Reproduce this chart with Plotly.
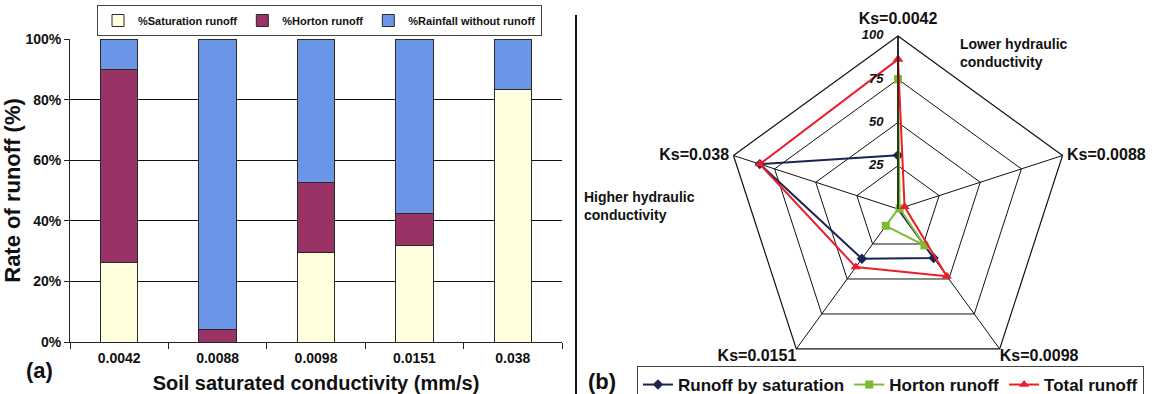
import plotly.graph_objects as go

# ---------------- data ----------------
categories = ["0.0042", "0.0088", "0.0098", "0.0151", "0.038"]
sat_runoff = [26.3, 0.0, 29.7, 31.8, 83.3]
horton_runoff = [63.7, 4.1, 22.9, 10.7, 0.0]
rain_no_runoff = [10.0, 95.9, 47.4, 57.5, 16.7]

radar_axes = ["Ks=0.0042", "Ks=0.0088", "Ks=0.0098", "Ks=0.0151", "Ks=0.038"]
radar_sat = [31, 0, 35, 35.5, 84]
radar_horton = [75, 1, 26, 12, 0]
radar_total = [86.5, 4, 48, 41.5, 84]

y_ticks = [0, 20, 40, 60, 80, 100]
y_tick_labels = ["0%", "20%", "40%", "60%", "80%", "100%"]
r_ticks = [0, 25, 50, 75, 100]
r_tick_labels = ["0", "25", "50", "75", "100"]
r_max = 100

FONT = "Liberation Sans, Arial, sans-serif"
W, H = 1162, 394

def px_x(x):
    return x / W

def px_y(y):
    return 1 - y / H

fig = go.Figure()

bar_line = dict(color="#2a2a2a", width=1)
fig.add_trace(go.Bar(x=categories, y=sat_runoff, name="%Saturation runoff",
                     marker=dict(color="#FFFFDE", line=bar_line), legend="legend"))
fig.add_trace(go.Bar(x=categories, y=horton_runoff, name="%Horton runoff",
                     marker=dict(color="#993366", line=bar_line), legend="legend"))
fig.add_trace(go.Bar(x=categories, y=rain_no_runoff, name="%Rainfall without runoff",
                     marker=dict(color="#6B95E6", line=bar_line), legend="legend"))

def closed(v):
    return list(v) + [v[0]]

fig.add_trace(go.Scatterpolar(r=closed(radar_sat), theta=closed(radar_axes),
                              name="Runoff by saturation", mode="lines+markers",
                              line=dict(color="#1B2452", width=2),
                              marker=dict(symbol="diamond", size=8, color="#1B2452"),
                              legend="legend2"))
fig.add_trace(go.Scatterpolar(r=closed(radar_horton), theta=closed(radar_axes),
                              name="Horton runoff", mode="lines+markers",
                              line=dict(color="#7DBB35", width=2),
                              marker=dict(symbol="square", size=8, color="#7DBB35"),
                              legend="legend2"))
fig.add_trace(go.Scatterpolar(r=closed(radar_total), theta=closed(radar_axes),
                              name="Total runoff", mode="lines+markers",
                              line=dict(color="#E8202A", width=2),
                              marker=dict(symbol="triangle-up", size=9, color="#E8202A"),
                              legend="legend2"))
# radial tick labels (horizontal, left of the vertical axis)
pad = "\u00a0\u00a0\u00a0\u00a0"
fig.add_trace(go.Scatterpolar(r=r_ticks, theta=[radar_axes[0]] * len(r_ticks),
                              mode="text", text=[t + pad for t in r_tick_labels],
                              textposition="middle left",
                              textfont=dict(size=13, weight="bold", style="italic",
                                            color="#111"),
                              showlegend=False, hoverinfo="skip"))
# category labels at the four lower / side vertices (top one is the angular tick label)
side_axes = radar_axes[1:]
side_text = ["\u00a0" + radar_axes[1], radar_axes[2], radar_axes[3], radar_axes[4] + "\u00a0"]
fig.add_trace(go.Scatterpolar(r=[r_max] * len(side_axes), theta=side_axes,
                              mode="text", text=side_text, cliponaxis=False,
                              textposition=["middle right", "bottom right",
                                            "bottom left", "middle left"],
                              textfont=dict(size=16, weight="bold", color="#111"),
                              showlegend=False, hoverinfo="skip"))

# radar geometry: centre (898,209), radius 173 px
cx, cy, R = 898, 209, 173

fig.update_layout(
    width=W, height=H,
    margin=dict(l=0, r=0, t=0, b=0, autoexpand=False),
    paper_bgcolor="white", plot_bgcolor="white",
    font=dict(family=FONT, color="#111", size=12),
    barmode="stack", bargap=0.62,
    xaxis=dict(domain=[px_x(70), px_x(562)], showgrid=False,
               showline=True, linecolor="#222", linewidth=1,
               ticks="outside", tickson="boundaries", ticklen=6, tickcolor="#222",
               ticklabelstandoff=3,
               tickfont=dict(size=14, weight="bold"),
               title=dict(text="Soil saturated conductivity (mm/s)",
                          font=dict(size=20, weight="bold"), standoff=15),
               automargin=False),
    yaxis=dict(domain=[px_y(342), px_y(39)], range=[0, 100],
               tickvals=y_ticks, ticktext=y_tick_labels,
               showgrid=True, gridcolor="#111", gridwidth=1,
               showline=True, linecolor="#222", linewidth=1,
               ticks="outside", ticklen=5, tickcolor="#222",
               tickfont=dict(size=14, weight="bold"),
               title=dict(text="Rate of runoff (%)",
                          font=dict(size=22, weight="bold"), standoff=0),
               zeroline=False, automargin=False),
    polar=dict(
        domain=dict(x=[px_x(cx - R), px_x(cx + R)], y=[px_y(cy + R), px_y(cy - R)]),
        bgcolor="white", gridshape="linear",
        angularaxis=dict(rotation=90, direction="clockwise",
                         linecolor="#111", linewidth=1.2,
                         gridcolor="#111", gridwidth=1,
                         tickvals=radar_axes,
                         ticktext=[radar_axes[0]] + [""] * (len(radar_axes) - 1),
                         ticks="outside", ticklen=5, tickcolor="rgba(0,0,0,0)",
                         tickfont=dict(size=16, weight="bold")),
        radialaxis=dict(range=[0, r_max], tickvals=r_ticks, angle=90,
                        showticklabels=False,
                        showline=True, linecolor="#111", linewidth=1.5,
                        gridcolor="#111", gridwidth=1, ticks=""),
    ),
    legend=dict(orientation="h", x=px_x(97), y=px_y(36), xanchor="left", yanchor="bottom",
                bordercolor="#444", borderwidth=1, bgcolor="white",
                font=dict(size=11, weight="bold"), itemwidth=30,
                tracegroupgap=0, traceorder="normal"),
    legend2=dict(orientation="h", x=px_x(637), y=px_y(366), xanchor="left", yanchor="top",
                 bordercolor="#444", borderwidth=1, bgcolor="white",
                 font=dict(size=17, weight="bold"), itemwidth=30),
    showlegend=True,
)

fig.add_shape(type="line", xref="paper", yref="paper",
              x0=px_x(576), x1=px_x(576), y0=0, y1=px_y(15),
              line=dict(color="#111", width=2))

fig.add_annotation(text="(a)", xref="paper", yref="paper", x=px_x(39), y=px_y(370),
                   xanchor="center", yanchor="middle",
                   showarrow=False, font=dict(size=22, weight="bold"))
fig.add_annotation(text="(b)", xref="paper", yref="paper", x=px_x(602), y=px_y(381),
                   xanchor="center", yanchor="middle",
                   showarrow=False, font=dict(size=22, weight="bold"))
fig.add_annotation(text="Lower hydraulic<br>conductivity", xref="paper", yref="paper",
                   x=px_x(958), y=px_y(53), xanchor="left", yanchor="middle", align="left",
                   showarrow=False, font=dict(size=14, weight="bold"))
fig.add_annotation(text="Higher hydraulic<br>conductivity", xref="paper", yref="paper",
                   x=px_x(582), y=px_y(206), xanchor="left", yanchor="middle", align="left",
                   showarrow=False, font=dict(size=14, weight="bold"))

fig.write_html("out.html", config={"displayModeBar": False},
               post_script="document.body.style.margin='0';document.body.style.overflow='hidden';")
